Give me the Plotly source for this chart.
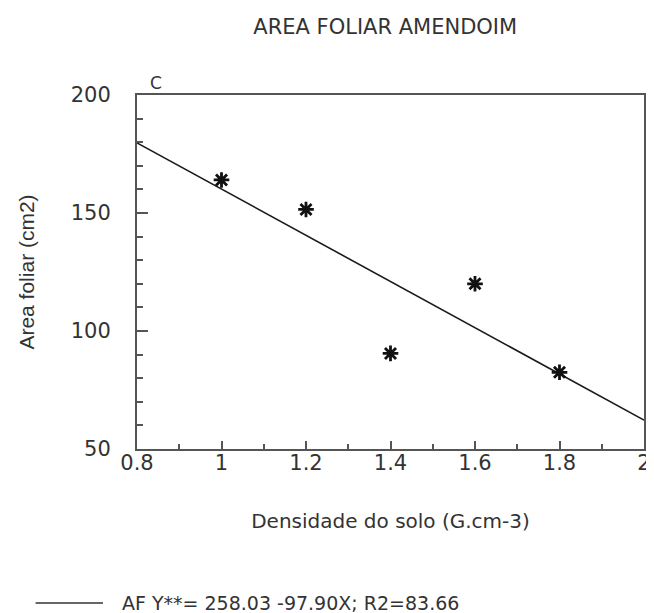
import plotly.graph_objects as go

# Data
densidade = [1.0, 1.2, 1.4, 1.6, 1.8]
area_foliar = [164, 151.5, 90.5, 120, 82.5]
intercepto = 258.03
inclinacao = -97.90
x_linha = [0.8, 2.0]
y_linha = [intercepto + inclinacao * v for v in x_linha]

x_ticks = [0.8, 1.0, 1.2, 1.4, 1.6, 1.8, 2.0]
x_ticktext = ["0.8", "1", "1.2", "1.4", "1.6", "1.8", "2"]
y_ticks = [50, 100, 150, 200]

FONT = "DejaVu Sans"

fig = go.Figure()
fig.add_trace(go.Scatter(
    x=x_linha, y=y_linha, mode="lines",
    line=dict(color="#1a1a1a", width=1.6),
    showlegend=False, hoverinfo="skip"))
fig.add_trace(go.Scatter(
    x=densidade, y=area_foliar, mode="markers",
    marker=dict(symbol="asterisk-open", size=13, color="#111111",
                line=dict(color="#111111", width=2.8)),
    showlegend=False))

axis_common = dict(
    showline=True, linecolor="#555555", linewidth=2, mirror=True,
    ticks="inside", tickwidth=1.5, tickcolor="#555555",
    showgrid=False, zeroline=False, automargin=False,
    ticklabeloverflow="allow",
    tickfont=dict(family=FONT, size=21, color="#333333"),
)

fig.update_xaxes(
    range=[0.8, 2.0], tickvals=x_ticks, ticktext=x_ticktext, ticklen=8,
    minor=dict(dtick=0.1, tick0=0.8, ticks="inside", ticklen=5,
               tickwidth=1.5, tickcolor="#555555"),
    title=dict(text="Densidade do solo (G.cm-3)",
               font=dict(family=FONT, size=20, color="#333333"),
               standoff=40),
    ticklabelstandoff=-6,
    **axis_common)
fig.update_yaxes(
    range=[50, 200], tickvals=y_ticks, ticklen=11,
    minor=dict(dtick=10, tick0=50, ticks="inside", ticklen=6,
               tickwidth=1.5, tickcolor="#555555"),
    title=dict(text="Area foliar (cm2)",
               font=dict(family="Liberation Sans Narrow, Liberation Sans", size=21, color="#333333"),
               standoff=30),
    ticklabelstandoff=20,
    **axis_common)

# Legend drawn at the bottom
fig.add_shape(type="line", xref="paper", yref="paper",
              x0=-0.2, x1=-0.067, y0=-0.435, y1=-0.435,
              line=dict(color="#333333", width=1.5))
fig.add_annotation(xref="paper", yref="paper", x=-0.034, y=-0.435,
                   xanchor="left", yanchor="middle", showarrow=False,
                   text="AF Y**= 258.03 -97.90X; R2=83.66",
                   font=dict(family=FONT, size=19, color="#333333"))
fig.add_annotation(xref="paper", yref="paper", x=0.037, y=1.0,
                   xanchor="center", yanchor="bottom", showarrow=False,
                   text="C", yshift=0,
                   font=dict(family=FONT, size=17, color="#333333"))

fig.update_layout(
    width=646, height=605,
    margin=dict(l=129, r=10, t=87, b=164),
    paper_bgcolor="white", plot_bgcolor="white",
    title=dict(text="AREA FOLIAR AMENDOIM", x=0.584, xanchor="center",
               y=0.969, yanchor="middle",
               font=dict(family=FONT, size=21, color="#333333")),
)

fig.write_html("out.html")
